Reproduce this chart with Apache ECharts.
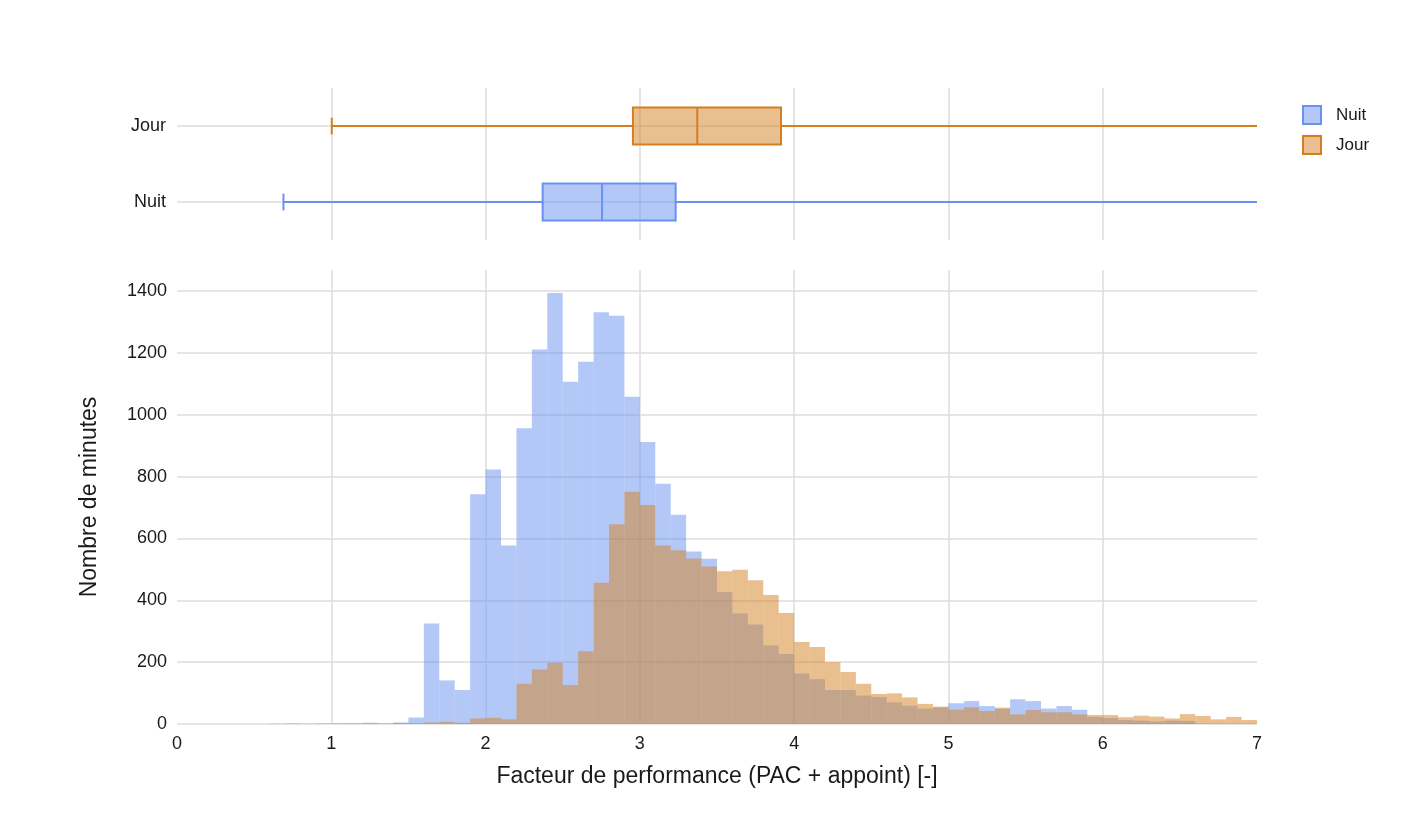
<!DOCTYPE html>
<html>
<head>
<meta charset="utf-8">
<script src="https://cdn.jsdelivr.net/npm/echarts@6/dist/echarts.min.js"></script>
<style>
  html, body { margin: 0; padding: 0; background: #fff; }
  #chart { width: 1426px; height: 834px; }
</style>
</head>
<body>
<div id="chart"></div>
<script>
// ---------- DATA ----------
const seriesNames = ['Nuit', 'Jour'];
const binWidth = 0.1;
const binFirstStart = 0.0;
// Histogram counts (minutes) per 0.1-wide bin from 0.0 to 7.0
const nuitCounts = [
  0, 0, 0, 0, 0, 0, 1, 2, 1, 2,
  2, 1, 4, 2, 5, 21, 325, 141, 110, 743,
  823, 577, 956, 1211, 1394, 1107, 1171, 1331, 1320, 1058,
  912, 777, 677, 558, 534, 427, 357, 322, 254, 226,
  163, 145, 110, 110, 92, 87, 70, 59, 50, 54,
  67, 74, 58, 49, 80, 74, 50, 58, 46, 23,
  19, 13, 11, 8, 11, 10, 1, 0, 0, 0
];
const jourCounts = [
  0, 0, 0, 0, 0, 0, 0, 0, 0, 0,
  1, 2, 1, 1, 2, 2, 5, 7, 4, 18,
  20, 15, 130, 176, 198, 126, 235, 457, 646, 751,
  708, 577, 562, 535, 509, 494, 499, 465, 417, 359,
  265, 249, 200, 168, 130, 97, 99, 86, 65, 56,
  46, 54, 42, 53, 31, 45, 38, 38, 31, 29,
  29, 22, 27, 24, 18, 32, 26, 15, 23, 13
];
// Box plots: [lower whisker, Q1, median, Q3, upper whisker (beyond the visible range)]
const nuitBox = [0.69, 2.37, 2.755, 3.232, 7.5];
const jourBox = [1.003, 2.955, 3.372, 3.915, 7.5];
const boxCategories = ['Nuit', 'Jour'];
const xTicksMax = 7;
const yTicksInterval = 200;

// ---------- STYLE ----------
const COLORS = {
  Nuit: { fill: 'rgba(105,145,239,0.5)', stroke: '#6991ef' },
  Jour: { fill: 'rgba(211,127,31,0.5)', stroke: '#d37f1f' }
};
const FONT = "'Liberation Sans', Arial, sans-serif";
const TEXT = '#1a1a1a';
const GRID = '#dcdcdc';

function histData(counts) {
  return counts.map((c, i) => {
    const s = binFirstStart + i * binWidth;
    return [s, s + binWidth, c];
  });
}

function makeHistRender(fill) {
  return function (params, api) {
    const x0 = api.value(0), x1 = api.value(1), c = api.value(2);
    if (!c) return null;
    const pTop = api.coord([x0, c]);
    const pBot = api.coord([x1, 0]);
    return {
      type: 'rect',
      shape: { x: pTop[0], y: pTop[1], width: pBot[0] - pTop[0], height: pBot[1] - pTop[1] },
      style: { fill: fill }
    };
  };
}

function makeBoxRender(fill, stroke) {
  return function (params, api) {
    const cat = api.value(0);
    const lo = api.value(1), q1 = api.value(2), med = api.value(3), q3 = api.value(4), hi = api.value(5);
    const cs = params.coordSys;
    const xMin = cs.x, xMax = cs.x + cs.width;
    const band = api.size([0, 1])[1];
    const y = api.coord([lo, cat])[1];
    const cx = v => Math.max(xMin, Math.min(xMax, api.coord([v, cat])[0]));
    const xLo = cx(lo), xQ1 = cx(q1), xMed = cx(med), xQ3 = cx(q3), xHi = cx(hi);
    const h = band * 0.49;
    const capH = band * 0.22;
    const children = [
      { type: 'line', shape: { x1: xMin, y1: y, x2: xMax, y2: y }, style: { stroke: GRID, lineWidth: 1.5 } },
      { type: 'line', shape: { x1: xLo, y1: y, x2: xQ1, y2: y }, style: { stroke: stroke, lineWidth: 2 } },
      { type: 'line', shape: { x1: xQ3, y1: y, x2: xHi, y2: y }, style: { stroke: stroke, lineWidth: 2 } },
      { type: 'line', shape: { x1: xLo, y1: y - capH / 2, x2: xLo, y2: y + capH / 2 }, style: { stroke: stroke, lineWidth: 2 } },
      { type: 'rect', shape: { x: xQ1, y: y - h / 2, width: xQ3 - xQ1, height: h }, style: { fill: fill, stroke: stroke, lineWidth: 2 } },
      { type: 'line', shape: { x1: xMed, y1: y - h / 2, x2: xMed, y2: y + h / 2 }, style: { stroke: stroke, lineWidth: 2 } }
    ];
    if (api.coord([hi, cat])[0] <= xMax) {
      children.push({ type: 'line', shape: { x1: xHi, y1: y - capH / 2, x2: xHi, y2: y + capH / 2 }, style: { stroke: stroke, lineWidth: 2 } });
    }
    return { type: 'group', children: children };
  };
}

const chart = echarts.init(document.getElementById('chart'), null, { renderer: 'canvas' });

const axisLabelStyle = { color: TEXT, fontSize: 18, fontFamily: FONT };

const option = {
  backgroundColor: '#fff',
  animation: false,
  textStyle: { fontFamily: FONT },
  legend: {
    orient: 'vertical',
    left: 1297,
    top: 100,
    itemWidth: 18,
    itemHeight: 18,
    itemGap: 10,
    textStyle: { color: TEXT, fontSize: 17, fontFamily: FONT, padding: [0, 0, 0, 10] },
    data: seriesNames.map(n => ({
      name: n,
      icon: 'rect',
      itemStyle: { color: COLORS[n].fill, borderColor: COLORS[n].stroke, borderWidth: 2 }
    }))
  },
  grid: [
    { left: 177, width: 1080, top: 88, height: 152, containLabel: false },
    { left: 177, width: 1080, top: 270, height: 454, containLabel: false }
  ],
  xAxis: [
    {
      type: 'value', gridIndex: 0, min: 0, max: xTicksMax, interval: 1,
      axisLine: { show: false }, axisTick: { show: false }, axisLabel: { show: false },
      splitLine: { show: true, showMinLine: false, showMaxLine: false, lineStyle: { color: GRID, width: 1.5 } }
    },
    {
      type: 'value', gridIndex: 1, min: 0, max: xTicksMax, interval: 1,
      axisLine: { show: false }, axisTick: { show: false },
      axisLabel: Object.assign({ margin: 11, formatter: v => String(v) }, axisLabelStyle),
      splitLine: { show: true, showMinLine: false, showMaxLine: false, lineStyle: { color: GRID, width: 1.5 } },
      name: 'Facteur de performance (PAC + appoint) [-]',
      nameLocation: 'middle',
      nameGap: 41,
      nameTextStyle: { color: TEXT, fontSize: 23, fontFamily: FONT }
    }
  ],
  yAxis: [
    {
      type: 'category', gridIndex: 0, data: boxCategories,
      axisLine: { show: false }, axisTick: { show: false },
      axisLabel: Object.assign({ margin: 11 }, axisLabelStyle),
      splitLine: { show: false }
    },
    {
      type: 'value', gridIndex: 1, min: 0, max: 1468, interval: yTicksInterval,
      axisLine: { show: false }, axisTick: { show: false },
      axisLabel: Object.assign({ margin: 10, showMaxLabel: false, formatter: v => String(v) }, axisLabelStyle),
      splitLine: { show: true, showMinLine: true, showMaxLine: false, lineStyle: { color: GRID, width: 1.5 } },
      name: 'Nombre de minutes',
      nameLocation: 'middle',
      nameGap: 76,
      nameRotate: 90,
      nameTextStyle: { color: TEXT, fontSize: 23, fontFamily: FONT }
    }
  ],
  series: [
    {
      name: 'Nuit', type: 'custom', xAxisIndex: 1, yAxisIndex: 1,
      renderItem: makeHistRender(COLORS.Nuit.fill),
      itemStyle: { color: COLORS.Nuit.fill, borderColor: COLORS.Nuit.stroke },
      encode: { x: [0, 1], y: 2 },
      data: histData(nuitCounts)
    },
    {
      name: 'Jour', type: 'custom', xAxisIndex: 1, yAxisIndex: 1,
      renderItem: makeHistRender(COLORS.Jour.fill),
      itemStyle: { color: COLORS.Jour.fill, borderColor: COLORS.Jour.stroke },
      encode: { x: [0, 1], y: 2 },
      data: histData(jourCounts)
    },
    {
      name: 'Nuit', type: 'custom', xAxisIndex: 0, yAxisIndex: 0,
      renderItem: makeBoxRender(COLORS.Nuit.fill, COLORS.Nuit.stroke),
      itemStyle: { color: COLORS.Nuit.fill, borderColor: COLORS.Nuit.stroke },
      encode: { x: [1, 2, 3, 4, 5], y: 0 },
      data: [[0].concat(nuitBox)]
    },
    {
      name: 'Jour', type: 'custom', xAxisIndex: 0, yAxisIndex: 0,
      renderItem: makeBoxRender(COLORS.Jour.fill, COLORS.Jour.stroke),
      itemStyle: { color: COLORS.Jour.fill, borderColor: COLORS.Jour.stroke },
      encode: { x: [1, 2, 3, 4, 5], y: 0 },
      data: [[1].concat(jourBox)]
    }
  ]
};

chart.setOption(option);
</script>
</body>
</html>
